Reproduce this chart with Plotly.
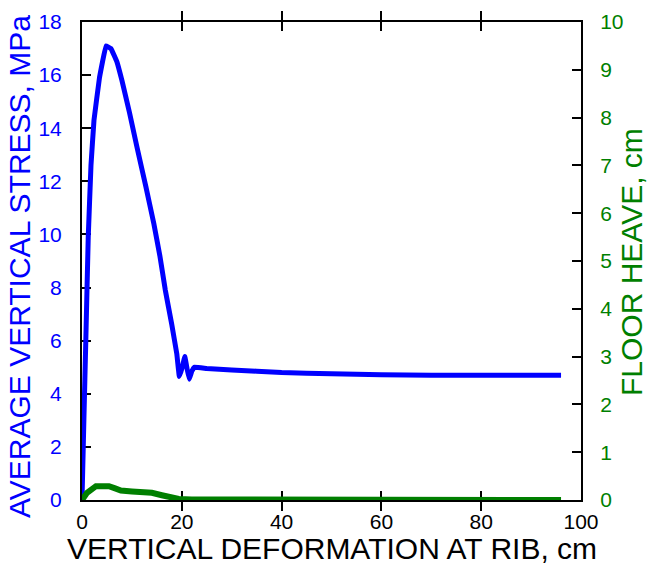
import plotly.graph_objects as go

# Average vertical stress (MPa) vs vertical deformation at rib (cm)
x_stress = [0, 0.4, 0.75, 1.25, 1.8, 2.4, 3.5, 4.8, 5.8, 7.0, 8.0, 9.5, 11.0, 12.8, 14.4,
            15.6, 16.7, 18.0, 19.0, 19.5, 20.1, 20.6, 21.1, 21.5, 22.0, 22.5, 25, 30, 40,
            50, 60, 70, 80, 90, 96]
y_stress = [0, 3.2, 5.9, 9.9, 12.6, 14.3, 15.9, 17.1, 17.0, 16.5, 15.8, 14.6, 13.3, 11.8, 10.4,
            9.2, 7.9, 6.6, 5.5, 4.65, 5.0, 5.4, 4.9, 4.55, 4.85, 5.0, 4.95, 4.9, 4.8,
            4.75, 4.72, 4.7, 4.7, 4.7, 4.7]

# Floor heave (cm) vs vertical deformation at rib (cm)
x_heave = [0, 1, 2.8, 5.4, 6.5, 7.8, 10, 14, 16, 18, 19.4, 22, 30, 50, 70, 96]
y_heave = [0, 0.15, 0.29, 0.29, 0.25, 0.2, 0.18, 0.15, 0.1, 0.05, 0.02, 0.01, 0.01, 0.005, 0, 0]

x_ticks = [0, 20, 40, 60, 80, 100]
y1_ticks = [0, 2, 4, 6, 8, 10, 12, 14, 16, 18]
y2_ticks = [0, 1, 2, 3, 4, 5, 6, 7, 8, 9, 10]

x_title = "VERTICAL DEFORMATION AT RIB, cm"
y1_title = "AVERAGE VERTICAL STRESS, MPa"
y2_title = "FLOOR HEAVE, cm"

BLUE = "#0000FF"
GREEN = "#007F00"
FONT = "Liberation Sans, Arial, sans-serif"

W, H = 647, 576
L, R, T, B = 82, 66, 22, 76

fig = go.Figure()
fig.add_trace(go.Scatter(x=x_stress, y=y_stress, mode="lines",
                         line=dict(color=BLUE, width=5, shape="spline", smoothing=0.15),
                         cliponaxis=False, yaxis="y"))
fig.add_trace(go.Scatter(x=x_heave, y=y_heave, mode="lines",
                         line=dict(color=GREEN, width=6), cliponaxis=False, yaxis="y2"))

axis_common = dict(ticks="inside", ticklen=9, tickwidth=2, tickcolor="black",
                   showline=True, linecolor="black", linewidth=2, automargin=False,
                   showgrid=False, zeroline=False, layer="below traces")

pw, ph = W - L - R, H - T - B


def px_x(p):
    return (p - L) / pw


def px_y(p):
    return (H - B - p) / ph


fig.update_layout(
    width=W, height=H,
    margin=dict(l=L, r=R, t=T, b=B),
    plot_bgcolor="white", paper_bgcolor="white",
    showlegend=False,
    font=dict(family=FONT),
    xaxis=dict(range=[0, 100], tickvals=x_ticks, mirror="allticks",
               tickfont=dict(size=21, color="black"), ticklabelstandoff=2,
               **axis_common),
    yaxis=dict(range=[0, 18], tickvals=y1_ticks,
               tickfont=dict(size=21, color=BLUE), ticklabelstandoff=14,
               **axis_common),
    yaxis2=dict(range=[0, 10], tickvals=y2_ticks, overlaying="y", side="right",
                tickfont=dict(size=21, color=GREEN), ticklabelstandoff=13,
                **axis_common),
    annotations=[
        dict(text=x_title, xref="paper", yref="paper", x=px_x(332), y=px_y(548),
             showarrow=False, font=dict(size=30, color="black"),
             xanchor="center", yanchor="middle"),
        dict(text=y1_title, xref="paper", yref="paper", x=px_x(19), y=px_y(267),
             showarrow=False, font=dict(size=30, color=BLUE), textangle=-90,
             xanchor="center", yanchor="middle"),
        dict(text=y2_title, xref="paper", yref="paper", x=px_x(631), y=px_y(262),
             showarrow=False, font=dict(size=30, color=GREEN), textangle=-90,
             xanchor="center", yanchor="middle"),
    ],
)

fig.write_html("out.html")
